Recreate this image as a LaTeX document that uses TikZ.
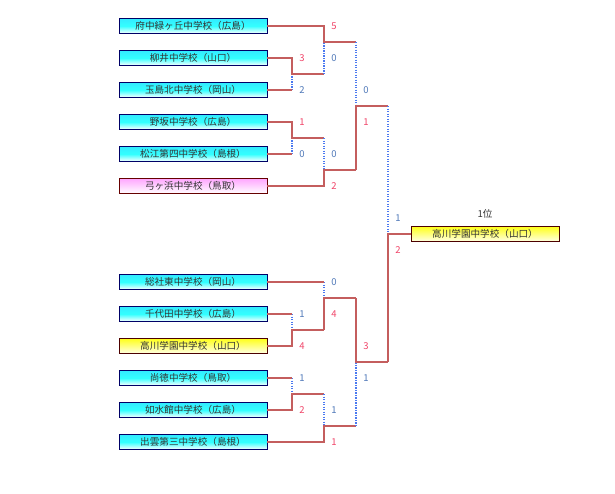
\documentclass[tikz,border=0pt]{standalone}
\usepackage{fontspec}
\setmainfont{Noto Sans CJK JP}
\usetikzlibrary{positioning}

\definecolor{linered}{HTML}{C45E5E}
\definecolor{lineblue}{HTML}{4A78F0}
\definecolor{winred}{HTML}{F04468}
\definecolor{loseblue}{HTML}{4F78B8}
\definecolor{teamtext}{HTML}{333333}

\begin{document}
\begin{tikzpicture}[
    x=1pt, y=-1pt,
    team/.style={draw=blue!40!black, line width=0.9pt, minimum width=148pt, minimum height=15pt,
        inner sep=0pt, outer sep=0pt, text=teamtext, font=\fontsize{9.6}{10}\selectfont,
        top color=cyan!90!blue!80, bottom color=white, middle color=cyan!80},
    pinkteam/.style={team, draw=red!40!black, top color=magenta!35, middle color=magenta!25, bottom color=white},
    yellowteam/.style={team, draw=red!30!black, top color=yellow!90, middle color=yellow!75, bottom color=yellow!10},
    win/.style={draw=linered, line width=2.3pt},
    lose/.style={draw=lineblue, line width=1.8pt, dash pattern=on 1.4pt off 1.1pt},
    wscore/.style={text=winred, font=\fontsize{9.5}{10}\selectfont, inner sep=0pt},
    lscore/.style={text=loseblue, font=\fontsize{9.5}{10}\selectfont, inner sep=0pt}
]
\useasboundingbox (0,0) rectangle (615,493);

% teams
\node[team] (t1) at (193,26) {府中緑ヶ丘中学校（広島）};
\node[team] (t2) at (193,58) {柳井中学校（山口）};
\node[team] (t3) at (193,90) {玉島北中学校（岡山）};
\node[team] (t4) at (193,122) {野坂中学校（広島）};
\node[team] (t5) at (193,154) {松江第四中学校（島根）};
\node[pinkteam] (t6) at (193,186) {弓ヶ浜中学校（鳥取）};
\node[team] (t7) at (193,282) {総社東中学校（岡山）};
\node[team] (t8) at (193,314) {千代田中学校（広島）};
\node[yellowteam] (t9) at (193,346) {高川学園中学校（山口）};
\node[team] (t10) at (193,378) {尚徳中学校（鳥取）};
\node[team] (t11) at (193,410) {如水館中学校（広島）};
\node[team] (t12) at (193,442) {出雲第三中学校（島根）};
\node[yellowteam] (champ) at (485,234) {高川学園中学校（山口）};
\node[text=teamtext, font=\fontsize{9.6}{10}\selectfont, inner sep=0pt, above=8pt of champ] (rank) {1位};

% junctions
\coordinate (a1) at (292,74);
\coordinate (a2) at (292,138);
\coordinate (a3) at (292,330);
\coordinate (a4) at (292,394);
\coordinate (b1) at (324,42);
\coordinate (b2) at (324,170);
\coordinate (b3) at (324,298);
\coordinate (b4) at (324,426);
\coordinate (c1) at (356,106);
\coordinate (c2) at (356,362);
\coordinate (fin) at (388,234);

% first round
\draw[lose] (t3.east -| a1) -- (a1);
\draw[win] (t3.east) -- (t3.east -| a1);
\draw[win] (t2.east) -| (a1) -- (a1 -| b1);
\draw[lose] (t5.east -| a2) -- (a2);
\draw[win] (t5.east) -- (t5.east -| a2);
\draw[win] (t4.east) -| (a2) -- (a2 -| b2);
\draw[lose] (t8.east -| a3) -- (a3);
\draw[win] (t8.east) -- (t8.east -| a3);
\draw[win] (t9.east) -| (a3) -- (a3 -| b3);
\draw[lose] (t10.east -| a4) -- (a4);
\draw[win] (t10.east) -- (t10.east -| a4);
\draw[win] (t11.east) -| (a4) -- (a4 -| b4);

% second round
\draw[lose] (a1 -| b1) -- (b1);
\draw[win] (t1.east) -| (b1) -- (b1 -| c1);
\draw[lose] (a2 -| b2) -- (b2);
\draw[win] (t6.east) -| (b2) -- (b2 -| c1);
\draw[lose] (t7.east -| b3) -- (b3);
\draw[win] (t7.east) -- (t7.east -| b3);
\draw[win] (a3 -| b3) -- (b3) -- (b3 -| c2);
\draw[lose] (a4 -| b4) -- (b4);
\draw[win] (t12.east) -| (b4) -- (b4 -| c2);

% semifinals
\draw[lose] (b1 -| c1) -- (c1);
\draw[win] (b2 -| c1) -- (c1) -- (c1 -| fin);
\draw[lose] (b4 -| c2) -- (c2);
\draw[win] (b3 -| c2) -- (c2) -- (c2 -| fin);

% final
\draw[lose] (c1 -| fin) -- (fin);
\draw[win] (c2 -| fin) -- (fin) -- (champ.west);

% scores
\node[wscore] (s1) at ([shift={(10pt,16pt)}]a1) {3};
\node[lscore] (s2) at ([shift={(10pt,-16pt)}]a1) {2};
\node[wscore] (s3) at ([shift={(10pt,16pt)}]a2) {1};
\node[lscore] (s4) at ([shift={(10pt,-16pt)}]a2) {0};
\node[lscore] (s5) at ([shift={(10pt,16pt)}]a3) {1};
\node[wscore] (s6) at ([shift={(10pt,-16pt)}]a3) {4};
\node[lscore] (s7) at ([shift={(10pt,16pt)}]a4) {1};
\node[wscore] (s8) at ([shift={(10pt,-16pt)}]a4) {2};
\node[wscore] (s9) at ([shift={(10pt,16pt)}]b1) {5};
\node[lscore] (s10) at ([shift={(10pt,-16pt)}]b1) {0};
\node[lscore] (s11) at ([shift={(10pt,16pt)}]b2) {0};
\node[wscore] (s12) at ([shift={(10pt,-16pt)}]b2) {2};
\node[lscore] (s13) at ([shift={(10pt,16pt)}]b3) {0};
\node[wscore] (s14) at ([shift={(10pt,-16pt)}]b3) {4};
\node[lscore] (s15) at ([shift={(10pt,16pt)}]b4) {1};
\node[wscore] (s16) at ([shift={(10pt,-16pt)}]b4) {1};
\node[lscore] (s17) at ([shift={(10pt,16pt)}]c1) {0};
\node[wscore] (s18) at ([shift={(10pt,-16pt)}]c1) {1};
\node[wscore] (s19) at ([shift={(10pt,16pt)}]c2) {3};
\node[lscore] (s20) at ([shift={(10pt,-16pt)}]c2) {1};
\node[lscore] (s21) at ([shift={(10pt,16pt)}]fin) {1};
\node[wscore] (s22) at ([shift={(10pt,-16pt)}]fin) {2};
\end{tikzpicture}
\end{document}
